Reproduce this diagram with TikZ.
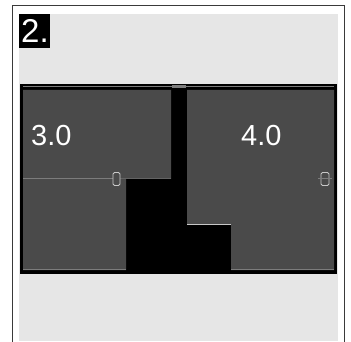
\documentclass[tikz,border=0pt]{standalone}
\usepackage{fontspec}
\setmainfont{Liberation Sans}
\usetikzlibrary{positioning}
\definecolor{panelgray}{HTML}{4A4A4A}
\definecolor{bggray}{HTML}{E6E6E6}
\definecolor{framegray}{HTML}{3A3A3A}
\definecolor{seamgray}{HTML}{7C7C7C}
\definecolor{gripgray}{HTML}{C8C8C8}

\begin{document}
\begin{tikzpicture}[x=1pt,y=-1pt,
  panel/.style={fill=panelgray},
  seam/.style={draw=seamgray, line width=1pt},
  grip/.style={draw=gripgray, fill=panelgray, rounded corners=1.5pt, line width=0.9pt},
  zone/.style={text=white, anchor=base west, inner sep=0pt, font=\fontsize{29}{29}\selectfont}]
  \useasboundingbox (0,0) rectangle (351,342);
  % frame and backdrop
  \draw[framegray, line width=1pt] (12,342) -- (12,6) -- (344,6) -- (344,342);
  \fill[bggray] (19,14) rectangle (338,341);
  \fill[black] (19,14) rectangle (50,48);
  \node[zone, font=\fontsize{33}{33}\selectfont] (num) at (21,42.5) {2.};
  % screen
  \fill[black] (20,84) rectangle (337,274);
  \draw[seam] (23,86.5) -- (172,86.5) (186,86.5) -- (334,86.5);
  \fill[seamgray] (172,85) rectangle (186,88.5);
  \fill[panel] (23,90) -- (171,90) -- (171,179) -- (126,179) -- (126,270) -- (23,270) -- cycle;
  \fill[panel] (187,90) -- (334,90) -- (334,270) -- (231,270) -- (231,224) -- (187,224) -- cycle;
  % seams
  \draw[seam] (23,178.5) -- (113,178.5);
  \draw[seam, draw=seamgray!80!black] (120,178.5) -- (171,178.5);
  \draw[seam] (23,269.5) -- (126,269.5) (231,269.5) -- (334,269.5);
  \draw[draw=gripgray, line width=1pt] (187,224.5) -- (231,224.5);
  % grips
  \draw[grip] (113,172.5) rectangle (120,185.5);
  \draw[grip] (321,172.5) rectangle (329,185.5);
  \draw[seam] (318,178.5) -- (332,178.5);
  % zone labels
  \node[zone] (left) at (31,146) {3.0};
  \node[zone] (right) at (241,146) {4.0};
\end{tikzpicture}
\end{document}
